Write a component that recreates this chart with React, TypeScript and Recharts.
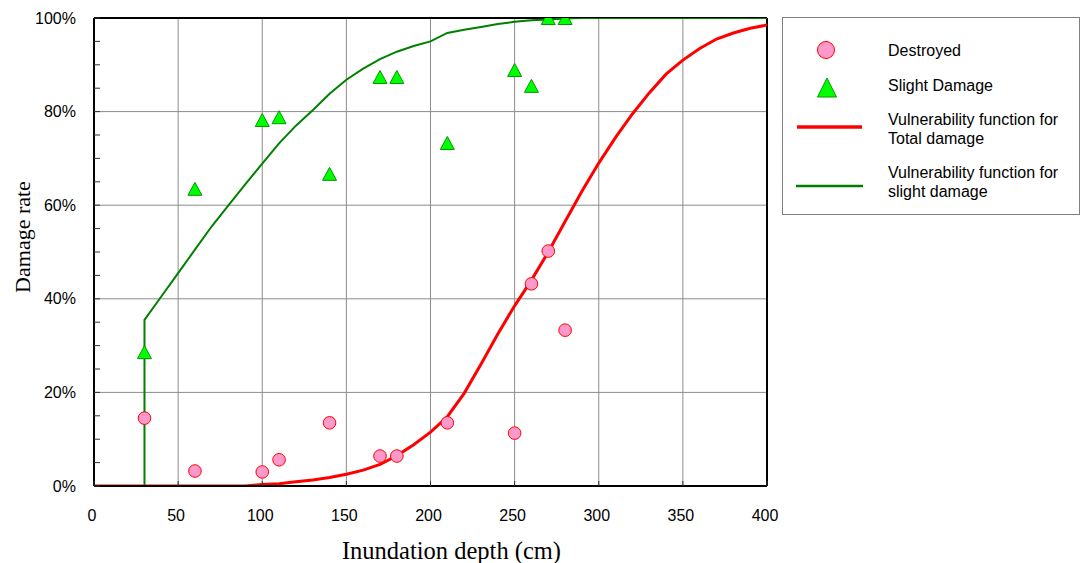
import React from "react";
import {
  ComposedChart, Line, Scatter, XAxis, YAxis, CartesianGrid, ReferenceLine, Label,
} from "recharts";

// surveyed damage rates per inundation depth (cm)
const surveyDepths = [30, 60, 100, 110, 140, 170, 180, 210, 250, 260, 270, 280];
const destroyedRates = [14.5, 3.2, 3.0, 5.6, 13.5, 6.4, 6.4, 13.5, 11.3, 43.2, 50.2, 33.3];
const slightRates = [28.6, 63.5, 78.2, 78.8, 66.7, 87.4, 87.4, 73.3, 88.9, 85.5, 100, 100];

// fitted vulnerability functions
const totalCurveDepths = [
  0, 10, 20, 30, 40, 50, 60, 70, 80, 90, 100, 110, 120, 130, 140, 150, 160, 170, 180, 190, 200,
  210, 220, 230, 240, 250, 260, 270, 280, 290, 300, 310, 320, 330, 340, 350, 360, 370, 380, 390, 400,
];
const totalCurveRates = [
  0, 0, 0, 0, 0, 0, 0, 0, 0, 0, 0.3, 0.5, 0.9, 1.3, 1.8, 2.5, 3.4, 4.6, 6.5, 8.8, 11.5,
  14.8, 19.8, 26, 32.5, 38.5, 44, 50, 56.5, 63, 69, 74.5, 79.5, 84, 88, 91, 93.5, 95.5, 96.8, 97.8, 98.5,
];
const slightCurveDepths = [
  0, 30, 30, 40, 50, 60, 70, 80, 90, 100, 110, 120, 130, 140, 150, 160, 170, 180, 190, 200,
  210, 220, 230, 240, 250, 260, 270, 280, 290, 300, 350, 400,
];
const slightCurveRates = [
  0, 0, 35.5, 40.5, 45.5, 50.5, 55.5, 60, 64.5, 68.9, 73.2, 77, 80.3, 83.8, 86.8, 89.2, 91.2, 92.8, 94, 95,
  96.8, 97.5, 98.1, 98.7, 99.2, 99.5, 99.7, 99.9, 100, 100, 100, 100,
];

const xTicks = [0, 50, 100, 150, 200, 250, 300, 350, 400];
const xGrid = [50, 100, 150, 200, 250, 300, 350];
const yTicks = [0, 5, 10, 15, 20, 25, 30, 35, 40, 45, 50, 55, 60, 65, 70, 75, 80, 85, 90, 95, 100];
const yGrid = [20, 40, 60, 80];

const destroyed = surveyDepths.map((x, i) => ({ x, y: destroyedRates[i] }));
const slight = surveyDepths.map((x, i) => ({ x, y: slightRates[i] }));
const totalCurve = totalCurveDepths.map((x, i) => ({ x, y: totalCurveRates[i] }));
const slightCurve = slightCurveDepths.map((x, i) => ({ x, y: slightCurveRates[i] }));

const sans = "'Liberation Sans', Arial, sans-serif";
const serif = "'Liberation Serif', 'Times New Roman', serif";

const YTick = ({ x, y, payload }: any) => (
  <g>
    <line x1={x} x2={x + 6} y1={y} y2={y} stroke="#333" />
    {payload.value % 20 === 0 && (
      <text x={x - 18} y={y} textAnchor="end" dominantBaseline="central" fontSize={16} fontFamily={sans} fill="#000">
        {payload.value}%
      </text>
    )}
  </g>
);

const XTick = ({ x, y, payload }: any) => (
  <g>
    <line x1={x} x2={x} y1={y} y2={y - 5} stroke="#333" />
    <text x={x - 2} y={y + 29} textAnchor="middle" dominantBaseline="central" fontSize={16} fontFamily={sans} fill="#000">
      {payload.value}
    </text>
  </g>
);

const Dot = ({ cx, cy }: any) => (
  <circle cx={cx} cy={cy} r={6.3} fill="#ff99cc" stroke="#ff0000" strokeWidth={1} />
);

const Tri = ({ cx, cy }: any) => (
  <polygon
    points={`${cx},${cy - 6.5} ${cx - 7},${cy + 6.5} ${cx + 7},${cy + 6.5}`}
    fill="#00ff00"
    stroke="#009900"
    strokeWidth={1}
  />
);

function LegendBox() {
  const row = { position: "absolute" as const, left: 105, fontSize: 16, fontFamily: sans, lineHeight: "19px", color: "#000" };
  return (
    <div
      style={{
        position: "absolute", left: 782, top: 17, width: 296, height: 196,
        border: "1px solid #808080", background: "#fff",
      }}
    >
      <svg width={90} height={196} style={{ position: "absolute", left: 0, top: 0 }}>
        <circle cx={43} cy={32} r={8.5} fill="#ff99cc" stroke="#ff0000" strokeWidth={1} />
        <polygon points="44,60 34.5,79 53.5,79" fill="#00ff00" stroke="#009900" strokeWidth={1} />
        <line x1={14} x2={79} y1={109} y2={109} stroke="#ff0000" strokeWidth={3.5} />
        <line x1={13} x2={80} y1={168} y2={168} stroke="#008000" strokeWidth={2.5} />
      </svg>
      <div style={{ ...row, top: 23 }}>Destroyed</div>
      <div style={{ ...row, top: 58 }}>Slight Damage</div>
      <div style={{ ...row, top: 92 }}>Vulnerability function for<br />Total damage</div>
      <div style={{ ...row, top: 145 }}>Vulnerability function for<br />slight damage</div>
    </div>
  );
}

export default function App() {
  return (
    <div style={{ position: "absolute", left: 0, top: 0, width: 1082, height: 563, background: "#fff" }}>
      <ComposedChart width={1082} height={563} margin={{ top: 18, right: 315, bottom: 47, left: 0 }}>
        <CartesianGrid stroke="#8c8c8c" horizontalValues={yGrid} verticalValues={xGrid} />
        <XAxis
          type="number"
          dataKey="x"
          domain={[0, 400]}
          ticks={xTicks}
          height={30}
          tickSize={0}
          tickMargin={0}
          tickLine={false}
          tick={<XTick />}
          axisLine={{ stroke: "#000", strokeWidth: 2 }}
          allowDataOverflow
        >
          <Label
            content={({ viewBox }: any) => (
              <text
                x={viewBox.x + viewBox.width / 2 + 21}
                y={550}
                textAnchor="middle"
                dominantBaseline="central"
                fontSize={24.5}
                fontFamily={serif}
                fill="#000"
              >
                Inundation depth (cm)
              </text>
            )}
          />
        </XAxis>
        <YAxis
          type="number"
          domain={[0, 100]}
          ticks={yTicks}
          width={94}
          tickSize={0}
          tickMargin={0}
          tickLine={false}
          tick={<YTick />}
          axisLine={{ stroke: "#000", strokeWidth: 2 }}
          interval={0}
          allowDataOverflow
        >
          <Label
            content={({ viewBox }: any) => {
              const cy = viewBox.y + viewBox.height / 2 - 15;
              return (
                <text
                  x={22}
                  y={cy}
                  transform={`rotate(-90 22 ${cy})`}
                  textAnchor="middle"
                  dominantBaseline="central"
                  fontSize={22}
                  fontFamily={serif}
                  fill="#000"
                >
                  Damage rate
                </text>
              );
            }}
          />
        </YAxis>
        <ReferenceLine y={100} stroke="#000" strokeWidth={2} />
        <ReferenceLine x={400} stroke="#000" strokeWidth={2} />
        <Line
          data={slightCurve}
          dataKey="y"
          type="linear"
          stroke="#008000"
          strokeWidth={2}
          dot={false}
          activeDot={false}
          isAnimationActive={false}
        />
        <Line
          data={totalCurve}
          dataKey="y"
          type="linear"
          stroke="#ff0000"
          strokeWidth={3}
          dot={false}
          activeDot={false}
          isAnimationActive={false}
        />
        <Scatter data={destroyed} dataKey="y" shape={<Dot />} isAnimationActive={false} />
        <Scatter data={slight} dataKey="y" shape={<Tri />} isAnimationActive={false} />
      </ComposedChart>
      <LegendBox />
    </div>
  );
}
